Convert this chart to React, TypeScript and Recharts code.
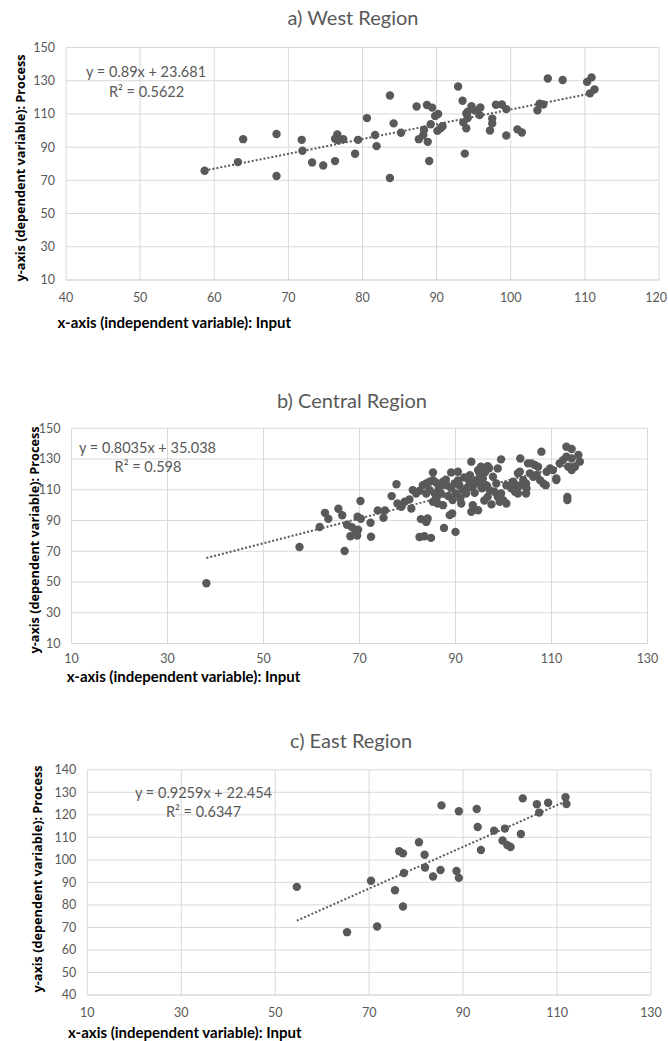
import React from 'react';
import { ScatterChart, Scatter, XAxis, YAxis, CartesianGrid, ReferenceLine } from 'recharts';

const westData = [
  { x: 58.7, y: 75.8 }, { x: 63.2, y: 81 }, { x: 63.9, y: 94.8 }, { x: 68.4, y: 97.9 }, { x: 68.4, y: 72.6 },
  { x: 71.8, y: 94.4 }, { x: 71.9, y: 87.8 }, { x: 73.2, y: 80.8 }, { x: 74.7, y: 79 }, { x: 76.3, y: 81.6 },
  { x: 76.6, y: 97.7 }, { x: 76.3, y: 95 }, { x: 76.7, y: 94.2 }, { x: 77.4, y: 94.8 }, { x: 79.0, y: 86 },
  { x: 79.4, y: 94.4 }, { x: 80.6, y: 107.5 }, { x: 81.7, y: 97.3 }, { x: 81.9, y: 90.6 }, { x: 83.7, y: 121.1 },
  { x: 83.7, y: 71.4 }, { x: 84.2, y: 104.3 }, { x: 85.2, y: 98.7 }, { x: 87.3, y: 114.5 }, { x: 87.6, y: 94.8 },
  { x: 88.2, y: 97.3 }, { x: 88.3, y: 100.5 }, { x: 88.7, y: 115.4 }, { x: 88.8, y: 93.2 }, { x: 89.0, y: 81.7 },
  { x: 89.2, y: 103.8 }, { x: 89.4, y: 113.8 }, { x: 89.8, y: 108.8 }, { x: 90.2, y: 110 }, { x: 90.1, y: 99.8 },
  { x: 90.5, y: 101.3 }, { x: 90.8, y: 102.6 }, { x: 92.9, y: 126.5 }, { x: 93.5, y: 117.9 }, { x: 93.6, y: 104.9 },
  { x: 93.8, y: 86.1 }, { x: 94.0, y: 101.4 }, { x: 94.2, y: 111.3 }, { x: 94.2, y: 107.5 }, { x: 94.0, y: 110.3 },
  { x: 94.7, y: 114.7 }, { x: 95.2, y: 112 }, { x: 95.8, y: 109.3 }, { x: 95.9, y: 113.9 }, { x: 97.2, y: 100 },
  { x: 97.5, y: 107.2 }, { x: 97.5, y: 104.3 }, { x: 98.0, y: 115.5 }, { x: 98.8, y: 115.7 }, { x: 99.4, y: 112.9 },
  { x: 99.4, y: 97 }, { x: 100.9, y: 100.7 }, { x: 101.5, y: 98.8 }, { x: 103.6, y: 112.2 }, { x: 103.9, y: 116.1 },
  { x: 104.4, y: 115.7 }, { x: 105.0, y: 131.3 }, { x: 107.0, y: 130.4 }, { x: 110.3, y: 129.3 }, { x: 110.9, y: 132 },
  { x: 110.7, y: 122.4 }, { x: 111.3, y: 124.8 },
];

const centralData = [
  { x: 38.1, y: 49.2 }, { x: 57.5, y: 72.8 }, { x: 61.7, y: 85.8 }, { x: 62.8, y: 95 }, { x: 63.5, y: 91.2 },
  { x: 65.6, y: 97.7 }, { x: 66.4, y: 93.4 }, { x: 66.9, y: 70.2 }, { x: 67.4, y: 87.3 }, { x: 68.1, y: 79.8 },
  { x: 68.4, y: 85.7 }, { x: 69.1, y: 83.6 }, { x: 69.7, y: 84 }, { x: 69.5, y: 80.3 }, { x: 69.6, y: 92.5 },
  { x: 70.3, y: 91.2 }, { x: 70.2, y: 102.7 }, { x: 72.3, y: 88.6 }, { x: 72.4, y: 79.4 }, { x: 73.8, y: 96.6 },
  { x: 75, y: 91.8 }, { x: 75.3, y: 96.6 }, { x: 76.7, y: 105.9 }, { x: 77.7, y: 113.6 }, { x: 77.9, y: 101.1 },
  { x: 78.7, y: 98.9 }, { x: 79.4, y: 102.2 }, { x: 80.4, y: 103.7 }, { x: 80.8, y: 97.8 }, { x: 81.1, y: 109.8 },
  { x: 81.8, y: 107.6 }, { x: 82.5, y: 109.3 }, { x: 83.2, y: 113 }, { x: 83.9, y: 114.1 }, { x: 84.6, y: 115.2 },
  { x: 85.3, y: 116.3 }, { x: 86, y: 114.6 }, { x: 87, y: 113 }, { x: 87.4, y: 115.2 }, { x: 85.3, y: 121.3 },
  { x: 82.8, y: 90.9 }, { x: 84.2, y: 91.3 }, { x: 83.9, y: 89.1 }, { x: 82.5, y: 79.3 }, { x: 83.5, y: 79.8 },
  { x: 84.9, y: 78.7 }, { x: 83.9, y: 107.6 }, { x: 84.6, y: 109.8 }, { x: 85.3, y: 102.2 }, { x: 86.3, y: 101.1 },
  { x: 87.4, y: 100 }, { x: 87, y: 107.6 }, { x: 87.6, y: 85.2 }, { x: 88.8, y: 93.5 }, { x: 89.3, y: 94.6 },
  { x: 89.1, y: 121.3 }, { x: 90.5, y: 121.7 }, { x: 90, y: 82.6 }, { x: 88.1, y: 113 }, { x: 89.1, y: 110.9 },
  { x: 89.8, y: 114.1 }, { x: 90.8, y: 113 }, { x: 91.5, y: 109.8 }, { x: 90.1, y: 107.6 }, { x: 89.4, y: 103.3 },
  { x: 91.2, y: 101.1 }, { x: 92.2, y: 107.6 }, { x: 92.9, y: 115.2 }, { x: 93.6, y: 112 }, { x: 94.3, y: 116.3 },
  { x: 95, y: 114.1 }, { x: 95.7, y: 117.4 }, { x: 93.3, y: 128.3 }, { x: 94.7, y: 122.8 }, { x: 95.3, y: 125 },
  { x: 96.7, y: 125.4 }, { x: 95, y: 120.7 }, { x: 93.6, y: 100 }, { x: 94.7, y: 96.7 }, { x: 93.3, y: 95.7 },
  { x: 96.4, y: 113 }, { x: 97.1, y: 109.8 }, { x: 96.7, y: 105.4 }, { x: 98.1, y: 108.7 }, { x: 98.8, y: 123.9 },
  { x: 99.5, y: 129.8 }, { x: 97.8, y: 118.5 }, { x: 98.5, y: 114.1 }, { x: 98.8, y: 105.4 }, { x: 99.5, y: 107.6 },
  { x: 99.2, y: 102.2 }, { x: 99.9, y: 103.3 }, { x: 100.6, y: 101.1 }, { x: 100.6, y: 113 }, { x: 101.6, y: 110.9 },
  { x: 102.6, y: 109.8 }, { x: 103.3, y: 112.4 }, { x: 104.7, y: 114.1 }, { x: 103, y: 120.7 }, { x: 103.5, y: 130.4 },
  { x: 105.1, y: 127.2 }, { x: 103, y: 107.6 }, { x: 104.7, y: 107.6 }, { x: 107.9, y: 134.8 }, { x: 103.4, y: 121.7 },
  { x: 102, y: 115.2 }, { x: 102.7, y: 113 }, { x: 104.1, y: 116.3 }, { x: 104.8, y: 110.9 }, { x: 102.4, y: 108.7 },
  { x: 105.8, y: 127.2 }, { x: 106.5, y: 126.1 }, { x: 107.2, y: 125 }, { x: 105.5, y: 120.7 }, { x: 106.2, y: 118.5 },
  { x: 106.9, y: 119.6 }, { x: 107.6, y: 116.3 }, { x: 108.3, y: 114.1 }, { x: 108.8, y: 113 }, { x: 109, y: 121.7 },
  { x: 109.7, y: 123.9 }, { x: 110.3, y: 122.8 }, { x: 111, y: 117.4 }, { x: 111, y: 116.3 }, { x: 111.7, y: 127.2 },
  { x: 112.4, y: 129.3 }, { x: 113.1, y: 131.5 }, { x: 114.2, y: 130.4 }, { x: 113.5, y: 125 }, { x: 114.2, y: 122.8 },
  { x: 114.9, y: 125 }, { x: 115.9, y: 128.3 }, { x: 115.6, y: 132.6 }, { x: 113.1, y: 138 }, { x: 114.2, y: 136.5 },
  { x: 113.3, y: 105.4 }, { x: 113.3, y: 103.3 }, { x: 86.5, y: 110.5 }, { x: 88.5, y: 106 }, { x: 91, y: 104.5 },
  { x: 92.5, y: 111.5 }, { x: 94, y: 108 }, { x: 95.5, y: 111 }, { x: 96, y: 103 }, { x: 97.5, y: 100.5 },
  { x: 91.8, y: 118 }, { x: 93, y: 119.5 }, { x: 96.2, y: 121.5 }, { x: 97, y: 124 }, { x: 88, y: 116.5 },
  { x: 90.5, y: 116 }, { x: 86, y: 104.5 }, { x: 85.7, y: 107.5 },
];

const eastData = [
  { x: 54.6, y: 88.0 }, { x: 65.3, y: 67.9 }, { x: 71.7, y: 70.4 }, { x: 70.4, y: 90.7 }, { x: 75.5, y: 86.5 },
  { x: 77.2, y: 79.3 }, { x: 76.4, y: 103.8 }, { x: 77.2, y: 102.9 }, { x: 77.4, y: 94.2 }, { x: 80.6, y: 107.8 },
  { x: 81.8, y: 102.3 }, { x: 81.9, y: 96.6 }, { x: 83.6, y: 92.6 }, { x: 85.2, y: 95.5 }, { x: 85.4, y: 124.2 },
  { x: 88.6, y: 95.1 }, { x: 89.1, y: 92 }, { x: 89.1, y: 121.6 }, { x: 92.9, y: 122.6 }, { x: 93.1, y: 114.6 },
  { x: 93.8, y: 104.4 }, { x: 96.6, y: 113 }, { x: 98.9, y: 113.9 }, { x: 98.4, y: 108.6 }, { x: 99.4, y: 106.6 },
  { x: 100.1, y: 105.7 }, { x: 102.3, y: 111.5 }, { x: 102.7, y: 127.3 }, { x: 105.7, y: 124.7 }, { x: 106.2, y: 121 },
  { x: 108.1, y: 125.4 }, { x: 111.8, y: 127.8 }, { x: 112.0, y: 124.8 },
];

const westXTicks = [40, 50, 60, 70, 80, 90, 100, 110, 120];
const westYTicks = [10, 30, 50, 70, 90, 110, 130, 150];
const centralXTicks = [10, 30, 50, 70, 90, 110, 130];
const centralYTicks = [10, 30, 50, 70, 90, 110, 130, 150];
const eastXTicks = [10, 30, 50, 70, 90, 110, 130];
const eastYTicks = [40, 50, 60, 70, 80, 90, 100, 110, 120, 130, 140];

const westFit = { slope: 0.89, intercept: 23.681, eq: 'y = 0.89x + 23.681', r2: 'R² = 0.5622' };
const centralFit = { slope: 0.8035, intercept: 35.038, eq: 'y = 0.8035x + 35.038', r2: 'R² = 0.598' };
const eastFit = { slope: 0.9259, intercept: 22.454, eq: 'y = 0.9259x + 22.454', r2: 'R² = 0.6347' };

const GRAY = '#595959';
const GRID = '#d9d9d9';
const FONT = 'Lato, "Open Sans", sans-serif';

const Dot = (p: any) => <circle cx={p.cx} cy={p.cy} r={4.2} fill={GRAY} />;

const XTick = (p: any) => {
  const label = String(p.payload.value);
  const half = label.length * 3.7;
  const overflow = p.x + half > 667;
  return (
    <text
      x={overflow ? 667 : p.x}
      y={p.y}
      dy="0.71em"
      textAnchor={overflow ? 'end' : 'middle'}
      fill={GRAY}
      fontSize={12.5}
      fontFamily={FONT}
    >
      {label}
    </text>
  );
};

function Panel(props: any) {
  const { data, xTicks, yTicks, fit, top, height, margin, xTickMargin } = props;
  const xs = data.map((d: any) => d.x);
  const x0 = Math.min(...xs);
  const x1 = Math.max(...xs);
  const seg = [
    { x: x0, y: fit.slope * x0 + fit.intercept },
    { x: x1, y: fit.slope * x1 + fit.intercept },
  ];
  const tick = { fill: GRAY, fontSize: 12.5, fontFamily: FONT };
  return (
    <div style={{ position: 'absolute', left: 0, top, width: 668, height }}>
      <ScatterChart width={668} height={height} margin={margin}>
        <CartesianGrid stroke={GRID} strokeWidth={1} />
        <XAxis
          type="number"
          dataKey="x"
          domain={[xTicks[0], xTicks[xTicks.length - 1]]}
          ticks={xTicks}
          interval={0}
          tick={XTick}
          tickLine={false}
          axisLine={{ stroke: GRID }}
          tickMargin={xTickMargin}
          height={30}
        />
        <YAxis
          type="number"
          dataKey="y"
          domain={[yTicks[0], yTicks[yTicks.length - 1]]}
          ticks={yTicks}
          interval={0}
          tick={tick}
          tickLine={false}
          axisLine={false}
          tickMargin={5}
          width={30}
        />
        <Scatter data={data} shape={Dot} isAnimationActive={false} />
        <ReferenceLine
          segment={seg}
          stroke={GRAY}
          strokeWidth={2}
          strokeDasharray="2 2"
        />
      </ScatterChart>
    </div>
  );
}

const textBase: React.CSSProperties = {
  position: 'absolute',
  whiteSpace: 'nowrap',
  fontFamily: FONT,
  lineHeight: 1,
};

function Centered({ x, y, size, color, weight, children }: any) {
  return (
    <div
      style={{
        ...textBase,
        left: x,
        top: y,
        fontSize: size,
        color: color || GRAY,
        fontWeight: weight || 400,
        transform: 'translate(-50%, -50%)',
      }}
    >
      {children}
    </div>
  );
}

function XTitle({ x, y }: any) {
  return (
    <div
      style={{
        ...textBase,
        left: x,
        top: y,
        fontSize: 15,
        fontWeight: 700,
        color: '#000',
        transform: 'translateY(-50%)',
      }}
    >
      x-axis (independent variable): Input
    </div>
  );
}

function YTitle({ x, y }: any) {
  return (
    <div
      style={{
        ...textBase,
        left: x,
        top: y,
        fontSize: 12.7,
        fontWeight: 700,
        color: '#000',
        fontFamily: '"Open Sans", sans-serif',
        transform: 'translate(-50%, -50%) rotate(-90deg)',
      }}
    >
      y-axis (dependent variable): Process
    </div>
  );
}

export default function App() {
  return (
    <div style={{ position: 'absolute', left: 0, top: 0, width: 668, height: 1041, background: '#fff', overflow: 'hidden' }}>
      <Panel
        data={westData}
        xTicks={westXTicks}
        yTicks={westYTicks}
        fit={westFit}
        top={0}
        height={330}
        xTickMargin={7}
        margin={{ top: 47.5, right: 9, bottom: 20, left: 36 }}
      />
      <Panel
        data={centralData}
        xTicks={centralXTicks}
        yTicks={centralYTicks}
        fit={centralFit}
        top={380}
        height={300}
        xTickMargin={5}
        margin={{ top: 48.3, right: 20.5, bottom: 6.5, left: 41.5 }}
      />
      <Panel
        data={eastData}
        xTicks={eastXTicks}
        yTicks={eastYTicks}
        fit={eastFit}
        top={740}
        height={301}
        xTickMargin={7}
        margin={{ top: 29.8, right: 17, bottom: 16, left: 57.3 }}
      />

      <Centered x={353} y={17} size={20}>a) West Region</Centered>
      <Centered x={352} y={400} size={20}>b) Central Region</Centered>
      <Centered x={351} y={740} size={20}>c) East Region</Centered>

      <Centered x={146} y={72} size={14.5}>{westFit.eq}</Centered>
      <Centered x={146.5} y={92} size={14.5}>{westFit.r2}</Centered>
      <Centered x={147.5} y={448.3} size={14.5}>{centralFit.eq}</Centered>
      <Centered x={148} y={467.3} size={14.5}>{centralFit.r2}</Centered>
      <Centered x={203.5} y={793} size={14.5}>{eastFit.eq}</Centered>
      <Centered x={203.5} y={812} size={14.5}>{eastFit.r2}</Centered>

      <XTitle x={57.5} y={322} />
      <XTitle x={66.7} y={676} />
      <XTitle x={68} y={1031.7} />

      <YTitle x={20} y={168} />
      <YTitle x={34} y={540} />
      <YTitle x={37} y={879} />
    </div>
  );
}
